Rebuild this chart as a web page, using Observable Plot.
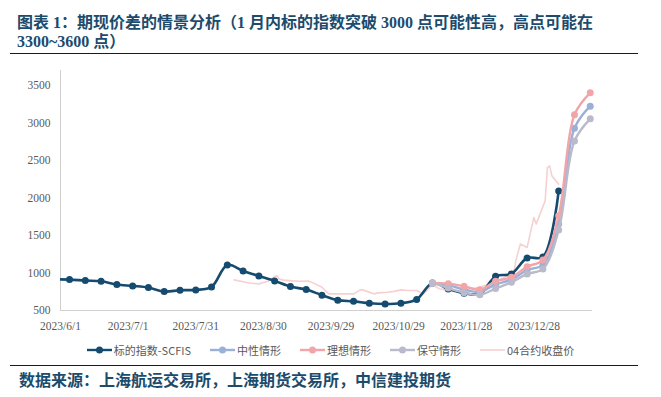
<!DOCTYPE html>
<html>
<head>
<meta charset="utf-8">
<script src="https://cdn.jsdelivr.net/npm/d3@7"></script>
<script src="https://cdn.jsdelivr.net/npm/@observablehq/plot@0.6"></script>
<style>
  html, body { margin: 0; padding: 0; background: #fff; }
  body { width: 661px; height: 397px; position: relative; overflow: hidden; }
  #title { position: absolute; left: 17px; top: 13px; width: 640px; font-family: "Liberation Serif", "Noto Sans CJK SC", serif; font-size: 16px; font-weight: 700; color: #1C4B6C; line-height: 19px; }
  .rule { position: absolute; left: 10px; width: 628px; height: 0; border-top: 1.5px solid #1a1a1a; }
  #chart { position: absolute; left: 0; top: 60px; }
  #chart svg text { font-family: "Liberation Serif", "Times New Roman", serif !important; }
  #legend { position: absolute; left: 0; top: 343px; width: 661px; display: flex; justify-content: center; gap: 19px; font-family: "Noto Sans CJK SC", sans-serif; font-size: 11px; color: #595959; line-height: 14px; }
  #legend .item { display: flex; align-items: center; gap: 2px; }
  #source { position: absolute; left: 19px; top: 371px; font-family: "Liberation Serif", "Noto Sans CJK SC", serif; font-size: 16px; font-weight: 700; color: #1C4B6C; line-height: 20px; }
</style>
</head>
<body>
<div id="title">图表 1：期现价差的情景分析（1 月内标的指数突破 3000 点可能性高，高点可能在<br>3300~3600 点）</div>
<div class="rule" style="top:52.5px"></div>
<div id="chart"></div>
<div id="legend"></div>
<div class="rule" style="top:364.5px"></div>
<div id="source">数据来源：上海航运交易所，上海期货交易所，中信建投期货</div>
<script>
// ---- Data ----
const seriesNames = ["标的指数-SCFIS", "中性情形", "理想情形", "保守情形", "04合约收盘价"];
const seriesColors = ["#164B70", "#9BB0D8", "#F2A5A8", "#B9BBCC", "#F7D0D1"];

const scfisDates = ["2023-05-29","2023-06-05","2023-06-12","2023-06-19","2023-06-26","2023-07-03","2023-07-10","2023-07-17","2023-07-24","2023-07-31","2023-08-07","2023-08-14","2023-08-21","2023-08-28","2023-09-04","2023-09-11","2023-09-18","2023-09-25","2023-10-02","2023-10-09","2023-10-16","2023-10-23","2023-10-30","2023-11-06","2023-11-13","2023-11-20","2023-11-27","2023-12-04","2023-12-11","2023-12-18","2023-12-25","2024-01-01","2024-01-08"];
const scfisValues = [916, 912, 899, 890, 846, 828, 806, 753, 770, 775, 815, 1108, 1028, 961, 895, 819, 779, 705, 638, 622, 597, 587, 597, 648, 868, 788, 730, 722, 956, 988, 1200, 1215, 2095];

const scenarioDates = ["2023-11-13","2023-11-20","2023-11-27","2023-12-04","2023-12-11","2023-12-18","2023-12-25","2024-01-01","2024-01-08","2024-01-15","2024-01-22"];
const neutralValues = [868, 838, 780, 750, 848, 912, 1040, 1110, 1652, 2930, 3225];
const idealValues = [868, 858, 823, 778, 890, 943, 1085, 1174, 1763, 3110, 3402];
const conservativeValues = [868, 800, 738, 709, 792, 876, 988, 1054, 1573, 2760, 3056];

const contractDates = ["2023-08-17","2023-08-22","2023-08-25","2023-08-28","2023-09-01","2023-09-04","2023-09-05","2023-09-06","2023-09-08","2023-09-12","2023-09-15","2023-09-19","2023-09-22","2023-09-25","2023-09-28","2023-10-09","2023-10-12","2023-10-13","2023-10-18","2023-10-20","2023-10-24","2023-10-27","2023-10-30","2023-11-02","2023-11-06","2023-11-09","2023-11-13","2023-11-16","2023-11-20","2023-11-23","2023-11-27","2023-11-30","2023-12-04","2023-12-07","2023-12-11","2023-12-14","2023-12-18","2023-12-19","2023-12-20","2023-12-22","2023-12-25","2023-12-28","2023-12-29","2024-01-02","2024-01-03","2024-01-04","2024-01-05","2024-01-08"];
const contractValues = [908, 876, 863, 855, 890, 952, 965, 921, 905, 895, 890, 893, 855, 810, 722, 722, 775, 775, 722, 735, 743, 755, 775, 766, 766, 722, 845, 790, 770, 765, 775, 790, 810, 840, 876, 930, 988, 975, 1165, 1386, 1341, 1740, 1652, 1962, 2405, 2428, 2295, 2184];

const xTickLabels = ["2023/6/1","2023/7/1","2023/7/31","2023/8/30","2023/9/29","2023/10/29","2023/11/28","2023/12/28"];
const yTicks = [500, 1000, 1500, 2000, 2500, 3000, 3500];

// ---- Build tables ----
const parse = s => new Date(s + "T00:00:00Z");
const zip = (ds, vs) => ds.map((d, i) => ({date: parse(d), value: vs[i]}));
const scfis = zip(scfisDates, scfisValues);
const neutral = zip(scenarioDates, neutralValues);
const ideal = zip(scenarioDates, idealValues);
const conservative = zip(scenarioDates, conservativeValues);
const contract = zip(contractDates, contractValues);
const xTicks = xTickLabels.map(s => { const [y, m, d] = s.split("/").map(Number); return new Date(Date.UTC(y, m - 1, d)); });
const fmt = d => `${d.getUTCFullYear()}/${d.getUTCMonth() + 1}/${d.getUTCDate()}`;

const xDomain = [parse("2023-06-01"), parse("2024-01-23")];

const lineOpts = (c, w) => ({x: "date", y: "value", stroke: c, strokeWidth: w, curve: "catmull-rom"});
const dotOpts = c => ({x: "date", y: "value", fill: c, r: 3.5});

const chart = Plot.plot({
  width: 661,
  height: 280,
  marginLeft: 60,
  marginRight: 69,
  marginTop: 10,
  marginBottom: 30,
  style: {fontFamily: "'Liberation Serif', serif", fontSize: "11.5px", color: "#595959", background: "transparent", overflow: "visible"},
  x: {type: "utc", domain: xDomain, ticks: xTicks, tickFormat: fmt, tickSize: 0, tickPadding: 11, label: null},
  y: {domain: [500, 3700], ticks: yTicks, tickFormat: d => String(d), tickSize: 0, tickPadding: 10, label: null},
  marks: [
    Plot.ruleY([500], {stroke: "#D0D0D0", strokeWidth: 1}),
    Plot.ruleX([xDomain[0]], {stroke: "#D0D0D0", strokeWidth: 1}),
    Plot.line(contract, {x: "date", y: "value", stroke: seriesColors[4], strokeWidth: 1.6}),
    Plot.line(scfis, {...lineOpts(seriesColors[0], 2.6), clip: true}),
    Plot.dot(scfis, {...dotOpts(seriesColors[0]), clip: true}),
    Plot.line(neutral, lineOpts(seriesColors[1], 2.4)),
    Plot.dot(neutral, dotOpts(seriesColors[1])),
    Plot.line(ideal, lineOpts(seriesColors[2], 2.4)),
    Plot.dot(ideal, dotOpts(seriesColors[2])),
    Plot.line(conservative, lineOpts(seriesColors[3], 2.4)),
    Plot.dot(conservative, dotOpts(seriesColors[3]))
  ]
});
document.getElementById("chart").appendChild(chart);

// ---- Legend ----
const legend = document.getElementById("legend");
seriesNames.forEach((name, i) => {
  const item = document.createElement("div");
  item.className = "item";
  const hasDot = i < 4;
  item.innerHTML = `<svg width="25" height="10"><line x1="0" y1="5" x2="25" y2="5" stroke="${seriesColors[i]}" stroke-width="${i === 4 ? 1.6 : 2.4}"/>${hasDot ? `<circle cx="12.5" cy="5" r="3.5" fill="${seriesColors[i]}"/>` : ""}</svg><span>${name}</span>`;
  legend.appendChild(item);
});
</script>
</body>
</html>
